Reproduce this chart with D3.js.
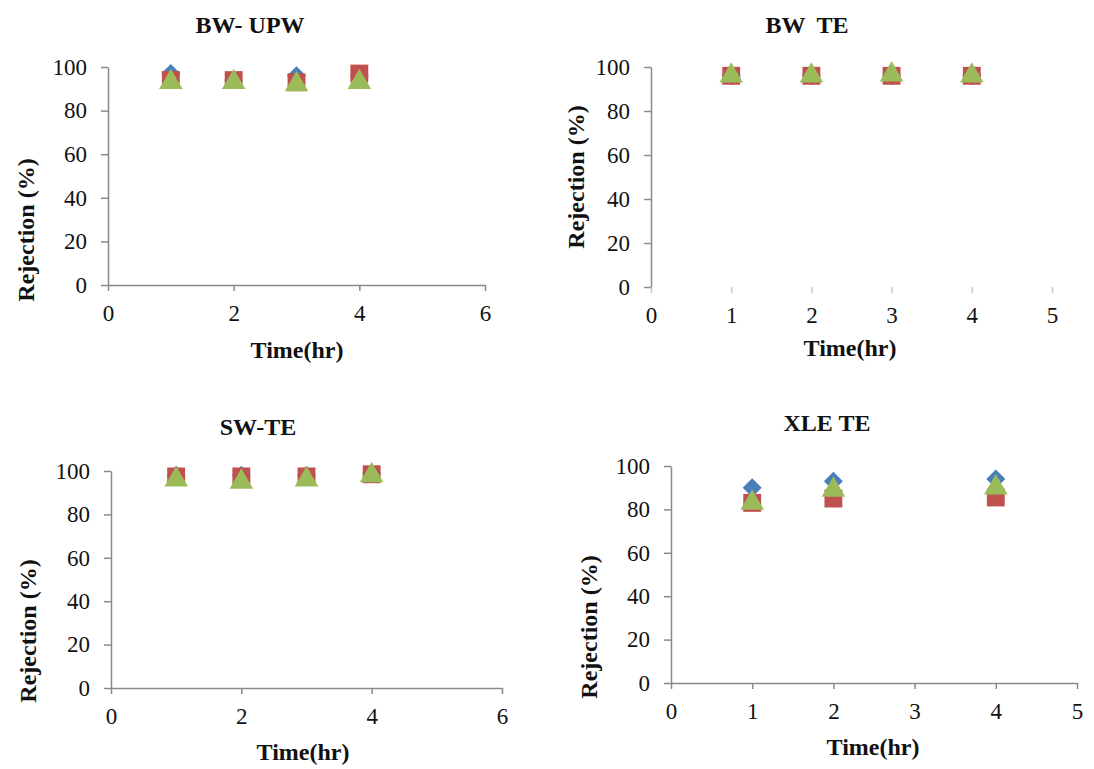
<!DOCTYPE html>
<html>
<head>
<meta charset="utf-8">
<script src="https://cdn.jsdelivr.net/npm/d3@7"></script>
<style>
  body { margin: 0; background: #fff; }
</style>
</head>
<body>
<div id="chart-area"></div>
<script>
// Datos
var panelTitles = ["BW- UPW", "BW  TE", "SW-TE", "XLE TE"];
var yTicks = [0, 20, 40, 60, 80, 100];
var xTicksA = [0, 2, 4, 6];
var xTicksB = [0, 1, 2, 3, 4, 5];

var timesUPW = [1, 2, 3, 4];
var blueUPW  = [97, 94, 96, 96];
var redUPW   = [94, 94, 93, 97];
var greenUPW = [93, 93, 92, 93];

var timesBWTE = [1, 2, 3, 4];
var blueBWTE  = [96, 96, 96, 96];
var redBWTE   = [96, 96, 96, 96];
var greenBWTE = [96, 96, 96.5, 96];

var timesSW = [1, 2, 3, 4];
var blueSW  = [98, 98, 98, 99];
var redSW   = [97.5, 97.5, 97.5, 98.5];
var greenSW = [96, 95, 96, 98];

var timesXLE = [1, 2, 4];
var blueXLE  = [90, 93, 94];
var redXLE   = [83, 85, 85.5];
var greenXLE = [83, 89, 90];

var width = 1094;
var height = 769;
var serif = "Liberation Serif, Times New Roman, serif";

var svg = d3.select("#chart-area")
    .append("svg")
    .attr("width", width)
    .attr("height", height)
    .attr("font-family", serif);

// Configuracion de cada panel (posiciones en pixeles)
var panels = [
    {title: panelTitles[0], left: 108, right: 485, top: 67, bottom: 285, xMax: 6, xTicks: xTicksA,
     times: timesUPW, series: [blueUPW, redUPW, greenUPW], xLine: true,
     titleX: 250, titleY: 33, xLabelX: 297, xLabelY: 358, yLabelX: 34, yLabelY: 230, label: "Time(hr)"},
    {title: panelTitles[1], left: 651, right: 1052, top: 67, bottom: 287, xMax: 5, xTicks: xTicksB,
     times: timesBWTE, series: [blueBWTE, redBWTE, greenBWTE], xLine: false,
     titleX: 807, titleY: 33, xLabelX: 850, xLabelY: 356, yLabelX: 584, yLabelY: 177, label: "Time(hr)"},
    {title: panelTitles[2], left: 111, right: 502, top: 471, bottom: 688, xMax: 6, xTicks: xTicksA,
     times: timesSW, series: [blueSW, redSW, greenSW], xLine: true,
     titleX: 258, titleY: 435, xLabelX: 303, xLabelY: 760, yLabelX: 36, yLabelY: 631, label: "Time(hr)"},
    {title: panelTitles[3], left: 671, right: 1077, top: 466, bottom: 683, xMax: 5, xTicks: xTicksB,
     times: timesXLE, series: [blueXLE, redXLE, greenXLE], xLine: true,
     titleX: 827, titleY: 431, xLabelX: 873, xLabelY: 755, yLabelX: 597, yLabelY: 627, label: "Time(hr)"}
];

var colors = ["#4a7ebb", "#c0504d", "#9bbb59"];
var shapes = [
    d3.symbol().type(d3.symbolSquare).size(180),
    d3.symbol().type(d3.symbolSquare).size(320),
    d3.symbol().type(d3.symbolTriangle).size(240)
];
var rotations = [45, 0, 0];

panels.forEach(function(p) {
    var x = d3.scaleLinear().domain([0, p.xMax]).range([p.left, p.right]);
    var y = d3.scaleLinear().domain([0, 100]).range([p.bottom, p.top]);

    // eje y
    var yAxis = svg.append("g")
        .attr("transform", "translate(" + p.left + ",0)")
        .call(d3.axisLeft(y).tickValues(yTicks).tickFormat(d3.format("d"))
            .tickSize(7).tickSizeOuter(0).tickPadding(14));

    // eje x
    var xAxis = svg.append("g")
        .attr("transform", "translate(0," + p.bottom + ")")
        .call(d3.axisBottom(x).tickValues(p.xTicks).tickFormat(d3.format("d"))
            .tickSize(6).tickSizeOuter(0).tickPadding(14));

    [xAxis, yAxis].forEach(function(a) {
        a.attr("font-family", serif).attr("font-size", 23);
        a.select(".domain").attr("stroke", "#8a8a8a").attr("stroke-width", 1.5);
        a.selectAll("line").attr("stroke", "#8a8a8a").attr("stroke-width", 1.5);
        a.selectAll("text")
            .attr("fill", "#111")
            .attr("font-family", serif)
            .attr("font-size", 23);
    });
    if (!p.xLine) {
        xAxis.select(".domain").remove();
        xAxis.selectAll("line").attr("stroke", "#c8c8c8");
    }

    // titulo
    svg.append("text")
        .attr("x", p.titleX)
        .attr("y", p.titleY)
        .attr("text-anchor", "middle")
        .attr("font-size", 24)
        .attr("font-weight", "bold")
        .attr("fill", "#111")
        .style("white-space", "pre")
        .text(p.title);

    // etiqueta x
    svg.append("text")
        .attr("x", p.xLabelX)
        .attr("y", p.xLabelY)
        .attr("text-anchor", "middle")
        .attr("font-size", 24)
        .attr("font-weight", "bold")
        .attr("fill", "#111")
        .text(p.label);

    // etiqueta y
    svg.append("text")
        .attr("transform", "translate(" + p.yLabelX + "," + p.yLabelY + ") rotate(-90)")
        .attr("text-anchor", "middle")
        .attr("font-size", 24)
        .attr("font-weight", "bold")
        .attr("fill", "#111")
        .text("Rejection (%)");

    // marcadores
    p.series.forEach(function(vals, si) {
        svg.append("g").selectAll("path")
            .data(vals)
            .enter().append("path")
            .attr("d", shapes[si])
            .attr("transform", function(d, i) {
                return "translate(" + x(p.times[i]) + "," + y(d) + ") rotate(" + rotations[si] + ")";
            })
            .attr("fill", colors[si]);
    });
});
</script>
</body>
</html>
